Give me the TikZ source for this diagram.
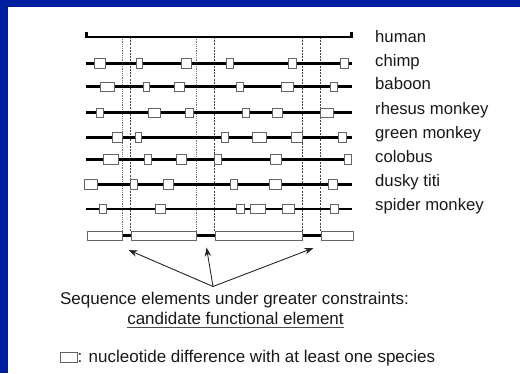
\documentclass[tikz,border=0pt]{standalone}
\usepackage{fontspec}
\setmainfont{Liberation Sans}
\usetikzlibrary{arrows.meta}
\definecolor{frameblue}{RGB}{0,30,160}
\definecolor{txt}{RGB}{25,25,25}
\definecolor{boxline}{RGB}{100,100,100}
\begin{document}
\begin{tikzpicture}[x=1pt,y=-1pt,
  seqline/.style={line width=2.7pt,black},
  dbox/.style={draw=boxline,fill=white,line width=0.8pt},
  guide/.style={line width=0.6pt,black!75,dash pattern=on 2pt off 1.2pt},
  guidelight/.style={line width=0.6pt,black!55,dash pattern=on 1pt off 0.8pt},
  species/.style={anchor=base west,inner sep=0pt,font=\fontsize{16.7}{18}\selectfont,text=txt},
  caption/.style={anchor=base,inner sep=0pt,font=\fontsize{17}{18}\selectfont,text=txt},
  legendtext/.style={anchor=base west,inner sep=0pt,font=\fontsize{17}{18}\selectfont,text=txt},
  pointer/.style={line width=0.9pt,black!85,-{Stealth[length=9pt,width=6.5pt]}}]
\useasboundingbox (0,0) rectangle (520,373);
\fill[white] (0,0) rectangle (520,373);
\fill[frameblue] (0,0) rectangle (520,7);
\fill[frameblue] (0,0) rectangle (8,373);

% guide lines
\foreach \x in {122.7,196} \draw[guidelight] (\x,37) -- (\x,231);
\foreach \x in {130.7,214,302.3,320.3} \draw[guide] (\x,37) -- (\x,231);

% human
\draw[seqline,line cap=butt] (86.5,31.5) -- (86.5,37) -- (351.5,37) -- (351.5,31.5);
\node[species] (human) at (375,42.3) {human};

% rows
\newcommand{\seqrow}[4]{%
  \draw[seqline] (#2,#1) -- (351.7,#1);
  \foreach \a/\b in {#3} \draw[dbox] (\a,#1-4.7) rectangle (\b,#1+4.7);
}
\seqrow{63.5}{86}{94.3/105.7,136/142.7,181/191.7,226/233,288.3/296.7,340.7/348.3}{}
\node[species] (chimp) at (375,66) {chimp};
\seqrow{86.7}{86}{100.7/114.3,143.3/149.3,174.3/184.3,236/243.3,281.7/293.3,330/337.3}{}
\node[species] (baboon) at (375,89.6) {baboon};
\seqrow{112.7}{86}{96.7/103.3,148.3/160,185.3/193.3,242.3/249,272.3/282.7,320.3/333.3}{}
\node[species] (rhesus) at (375,114.3) {rhesus monkey};
\seqrow{137.3}{86}{112.5/122.5,135.2/141.8,221.7/228.5,252.7/266.7,291.7/302.5,338/346}{}
\node[species] (green) at (375,138) {green monkey};
\seqrow{159.3}{86}{103.3/118.7,144.3/151,176/186,214.8/221,270/281.7,344.3/351.7}{}
\node[species] (colobus) at (375,162) {colobus};
\seqrow{184.3}{90}{84/97.3,130/137.3,163.3/173.3,230/237.3,269/281,328.3/337.3}{}
\node[species] (dusky) at (375,186.2) {dusky titi};
\seqrow{209}{86}{99/106.7,155/165,236.7/244,250.7/265,282.3/294,330/338.3}{}
\node[species] (spider) at (375,210.4) {spider monkey};

% constrained elements bar
\draw[seqline] (122.3,235.7) -- (321,235.7);
\foreach \a/\b in {87.3/122.3,131.7/196,215/302.3,321/353.3}
  \draw[dbox] (\a,231.2) rectangle (\b,240.2);

% arrows
\coordinate (tipA) at (128.5,250);
\coordinate (tipB) at (206.5,247.5);
\coordinate (tipC) at (313.5,248);
\coordinate (apex) at (213,286.5);
\draw[pointer] (apex) -- (tipA);
\draw[pointer] (apex) -- (tipB);
\draw[pointer] (apex) -- (tipC);

\node[caption] (cap1) at (234.5,304) {Sequence elements under greater constraints:};
\node[caption] (cap2) at (235.5,324.3) {candidate functional element};
\draw[line width=0.8pt,black!70] ([yshift=-3.5pt]cap2.base west) -- ([yshift=-3.5pt]cap2.base east);

% legend
\draw[dbox] (60.5,352.8) rectangle (77,362);
\node[legendtext] (legend) at (77.5,362.2) {: nucleotide difference with at least one species};
\end{tikzpicture}
\end{document}
